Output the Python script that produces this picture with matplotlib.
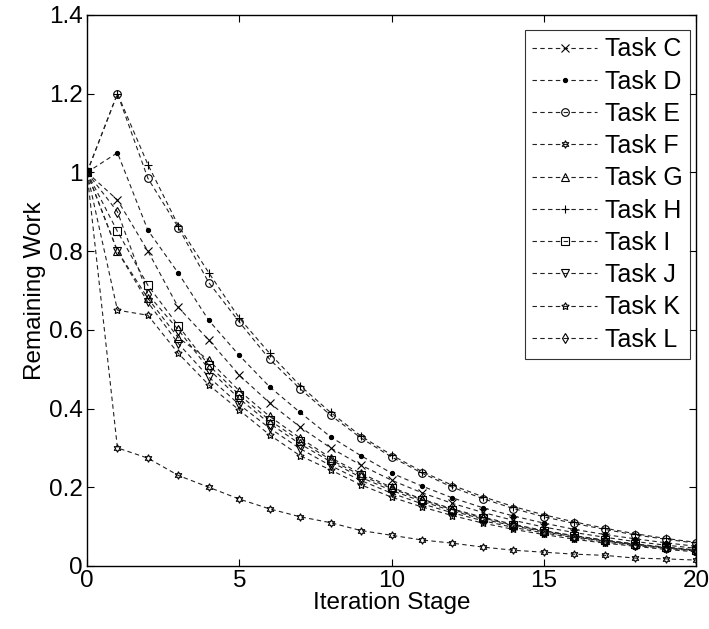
import numpy as np
import matplotlib
matplotlib.use("Agg")
import matplotlib.pyplot as plt

plt.rcParams['font.family'] = ['Liberation Sans', 'DejaVu Sans']

# Iteration stages 0..20
stage = np.arange(21)

# Remaining work per task
task_c = [1, 0.93, 0.80, 0.657, 0.574, 0.485, 0.414, 0.353, 0.30, 0.256, 0.218,
          0.186, 0.159, 0.136, 0.116, 0.099, 0.085, 0.073, 0.062, 0.053, 0.045]
task_d = [1, 1.05, 0.853, 0.744, 0.624, 0.535, 0.455, 0.39, 0.328, 0.28, 0.236,
          0.203, 0.173, 0.148, 0.127, 0.109, 0.093, 0.08, 0.069, 0.059, 0.05]
task_e = [1, 1.2, 0.985, 0.86, 0.72, 0.62, 0.525, 0.45, 0.383, 0.325, 0.277,
          0.236, 0.20, 0.171, 0.146, 0.125, 0.108, 0.093, 0.079, 0.068, 0.058]
task_f = [1, 0.30, 0.274, 0.23, 0.20, 0.17, 0.145, 0.125, 0.11, 0.09, 0.078,
          0.066, 0.058, 0.048, 0.04, 0.035, 0.03, 0.027, 0.02, 0.018, 0.015]
task_g = [1, 0.80, 0.68, 0.58, 0.523, 0.445, 0.38, 0.325, 0.275, 0.235, 0.20,
          0.17, 0.145, 0.124, 0.106, 0.09, 0.077, 0.066, 0.056, 0.048, 0.041]
task_h = [1, 1.2, 1.02, 0.865, 0.745, 0.63, 0.54, 0.458, 0.39, 0.33, 0.282,
          0.24, 0.205, 0.176, 0.151, 0.13, 0.112, 0.096, 0.082, 0.07, 0.06]
task_i = [1, 0.85, 0.713, 0.61, 0.51, 0.435, 0.37, 0.318, 0.27, 0.23, 0.197,
          0.168, 0.143, 0.122, 0.104, 0.089, 0.076, 0.065, 0.055, 0.047, 0.04]
task_j = [1, 0.80, 0.67, 0.565, 0.48, 0.41, 0.35, 0.298, 0.255, 0.217, 0.185,
          0.158, 0.135, 0.115, 0.098, 0.084, 0.072, 0.061, 0.052, 0.045, 0.038]
task_k = [1, 0.65, 0.637, 0.54, 0.46, 0.396, 0.333, 0.28, 0.244, 0.206, 0.175,
          0.15, 0.128, 0.109, 0.093, 0.08, 0.068, 0.058, 0.05, 0.042, 0.036]
task_l = [1, 0.90, 0.69, 0.60, 0.50, 0.425, 0.362, 0.31, 0.265, 0.225, 0.192,
          0.164, 0.14, 0.119, 0.102, 0.087, 0.074, 0.063, 0.054, 0.046, 0.039]

labels = ['Task C', 'Task D', 'Task E', 'Task F', 'Task G',
          'Task H', 'Task I', 'Task J', 'Task K', 'Task L']
series = [task_c, task_d, task_e, task_f, task_g,
          task_h, task_i, task_j, task_k, task_l]
# MATLAB-like markers: x . o hexagram ^ + s v pentagram d
markers = ['x', '.', 'o', (6, 1, 0), '^', '+', 's', 'v', (5, 1, 0), 'd']

fig = plt.figure(figsize=(7.09, 6.29), dpi=100)
ax = fig.add_axes([0.1227, 0.1002, 0.859, 0.876])

for y, lab, m in zip(series, labels, markers):
    ms = 6 if m == '.' else 5.5
    ax.plot(stage, y, color='#222222', lw=0.8, dashes=(4, 3),
            marker=m, ms=ms, mfc='none' if m != '.' else 'black',
            mec='black', mew=0.8, label=lab)

ax.set_xlim(0, 20)
ax.set_ylim(0, 1.4)
ax.set_xticks([0, 5, 10, 15, 20])
ax.set_yticks(np.arange(0, 1.41, 0.2))
ax.set_yticklabels(['0', '0.2', '0.4', '0.6', '0.8', '1', '1.2', '1.4'])
ax.tick_params(direction='in', top=True, right=True, length=5,
               width=0.8, labelsize=17.5, pad=3)
for s in ax.spines.values():
    s.set_linewidth(1.0)

ax.set_xlabel('Iteration Stage', fontsize=17.5, labelpad=0)
ax.set_ylabel('Remaining Work', fontsize=17.5, labelpad=2)

leg = ax.legend(loc='upper right', bbox_to_anchor=(0.990, 0.973),
                fontsize=18, frameon=True, fancybox=False,
                edgecolor='black', handlelength=2.6, labelspacing=0.33,
                borderaxespad=0, handletextpad=0.3, borderpad=0.3)
leg.get_frame().set_linewidth(0.8)

fig.savefig('out.png', dpi=100)
